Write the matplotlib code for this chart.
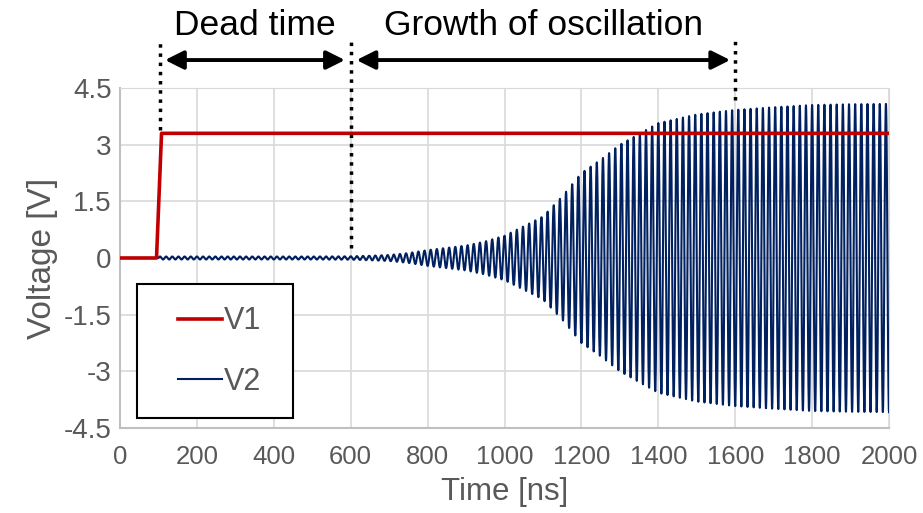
import numpy as np
import matplotlib
matplotlib.use("Agg")
import matplotlib.pyplot as plt
from matplotlib.patches import Rectangle

# V1: gate step
v1_t = [0, 95, 108, 2000]
v1_v = [0, 0, 3.3, 3.3]

# V2: oscillation envelope (amplitude in V)
env_t = [100, 200, 300, 400, 500, 600, 650, 700, 750, 800, 850, 900, 950, 1000,
         1050, 1100, 1150, 1200, 1250, 1300, 1400, 1500, 1600, 1700, 1800, 1900, 2000]
env_v = [0.04, 0.04, 0.04, 0.04, 0.04, 0.045, 0.06, 0.08, 0.13, 0.21, 0.27, 0.33, 0.44, 0.59,
         0.84, 1.1, 1.63, 2.25, 2.6, 3.0, 3.57, 3.8, 3.92, 3.99, 4.05, 4.07, 4.08]
osc_period = 16.0  # ns, counted from the cycles

x_ticks = [0, 200, 400, 600, 800, 1000, 1200, 1400, 1600, 1800, 2000]
y_ticks = [-4.5, -3, -1.5, 0, 1.5, 3, 4.5]
y_labels = ["-4.5", "-3", "-1.5", "0", "1.5", "3", "4.5"]

markers_t = [105, 600, 1600]
phases = ["Dead time", "Growth of oscillation"]

t = np.arange(0, 2000.25, 0.25)
env = np.interp(t, env_t, env_v)
v2 = np.where(t >= 100, env * np.sin(2 * np.pi * (t - 100) / osc_period), 0.0)

plt.rcParams['font.family'] = ['Liberation Sans', 'DejaVu Sans']

grey = '#595959'
fig = plt.figure(figsize=(9.23, 5.13), dpi=100)
ax = fig.add_axes([120 / 923, 85 / 513, 769 / 923, 340 / 513])

ax.plot(t, v2, color='#002060', lw=1.5, label='V2', zorder=3)
ax.plot(v1_t, v1_v, color='#c00000', lw=2.6, label='V1', zorder=4)

ax.set_xlim(0, 2000)
ax.set_ylim(-4.5, 4.5)
ax.set_xticks(x_ticks)
ax.set_yticks(y_ticks)
ax.set_yticklabels(y_labels)
ax.tick_params(length=0, colors=grey)
ax.tick_params(axis='y', labelsize=20, pad=6)
ax.tick_params(axis='x', labelsize=18.5, pad=12)
ax.grid(True, color='#d9d9d9', lw=1.2)
ax.set_axisbelow(True)
for s in ['top', 'right']:
    ax.spines[s].set_color('#d9d9d9')
for s in ['left', 'bottom']:
    ax.spines[s].set_color('#bfbfbf')
    ax.spines[s].set_linewidth(1.5)

ax.set_xlabel('Time [ns]', fontsize=22.5, color=grey, labelpad=6)
ax.set_ylabel('Voltage [V]', fontsize=24, color=grey, labelpad=4)

# legend: frame drawn as its own box, entries placed inside it
ax.add_patch(Rectangle((0.022, 0.0294), 0.203, 0.394, transform=ax.transAxes,
                       facecolor='white', edgecolor='black', lw=1.5, zorder=6))
h, l = ax.get_legend_handles_labels()
leg = ax.legend(h[::-1], l[::-1], loc='center left', bbox_to_anchor=(0.0754, 0.225),
                fontsize=22, labelspacing=1.0, handlelength=1.45,
                borderpad=0, frameon=False, handletextpad=0.05, borderaxespad=0)
leg.set_zorder(7)
for txt in leg.get_texts():
    txt.set_color(grey)

# dotted markers and arrows above the plot
dot_bottoms = [3.4, 0.26, 4.18]
for x0, yb in zip(markers_t, dot_bottoms):
    ax.plot([x0, x0], [yb, 5.78], color='black', ls=':', lw=2.5, clip_on=False, zorder=5)

arrow_spans = [(117, 585), (615, 1587)]
for (a, b), name in zip(arrow_spans, phases):
    ax.annotate('', xy=(a, 5.24), xytext=(b, 5.24), annotation_clip=False,
                arrowprops=dict(arrowstyle='<|-|>', color='black', lw=2.8,
                                mutation_scale=28, shrinkA=0, shrinkB=0))
    ax.text((a + b) / 2, 6.15, name, ha='center', va='center', fontsize=25.5,
            color='black', clip_on=False)

fig.savefig('out.png', dpi=100)
